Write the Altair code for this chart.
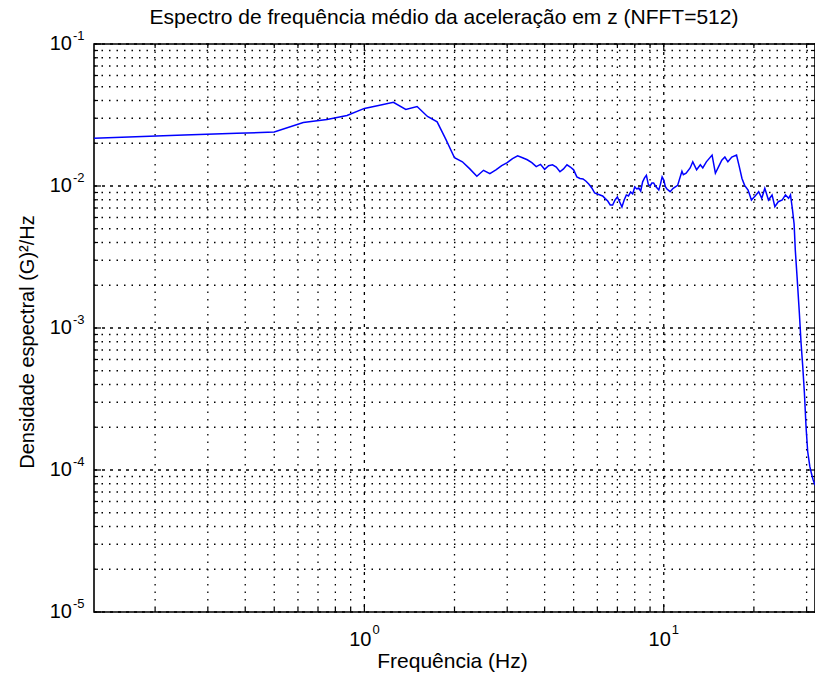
import altair as alt
import pandas as pd

# Plot area size in pixels
W, H = 721, 568
FONT = "Liberation Sans"

# Averaged acceleration PSD in z (NFFT=512), frequency in Hz, PSD in G^2/Hz
freq_low = [0.125, 0.25, 0.375, 0.5, 0.625, 0.75, 0.875, 1.0, 1.125, 1.25, 1.375, 1.5,
            1.625, 1.75, 1.875, 2.0, 2.125, 2.25, 2.375, 2.5, 2.625, 2.75, 2.875]
psd_low = [0.0217, 0.0229, 0.0235, 0.0240, 0.0280, 0.0294, 0.0314, 0.0352, 0.0370, 0.0388, 0.0346, 0.0363,
           0.0309, 0.0283, 0.0211, 0.0158, 0.0148, 0.0132, 0.0117, 0.0129, 0.0122, 0.0130, 0.0139]

freq_mid = [3.0, 3.125, 3.25, 3.375, 3.5, 3.625, 3.75, 3.875,
            4.0, 4.125, 4.25, 4.375, 4.5, 4.625, 4.75, 4.875,
            5.0, 5.125, 5.25, 5.375, 5.5, 5.625, 5.75, 5.875,
            6.0, 6.125, 6.25, 6.375, 6.5, 6.625, 6.75, 6.875,
            7.0, 7.125, 7.25, 7.375, 7.5, 7.625, 7.75, 7.875,
            8.0, 8.125, 8.25, 8.375, 8.5, 8.625, 8.75, 8.875,
            9.0, 9.125, 9.25, 9.375, 9.5, 9.625, 9.75, 9.875]
psd_mid = [0.0146, 0.0156, 0.0163, 0.0158, 0.0153, 0.0146, 0.0137, 0.0142,
           0.0131, 0.0139, 0.0141, 0.0136, 0.0126, 0.0132, 0.0141, 0.0136,
           0.0130, 0.0116, 0.0113, 0.0112, 0.0108, 0.0103, 0.00968, 0.00893,
           0.00879, 0.00865, 0.00851, 0.00815, 0.00784, 0.00735, 0.00735, 0.00797,
           0.00837, 0.00771, 0.00713, 0.00797, 0.00865, 0.00851, 0.00908, 0.00879,
           0.00984, 0.00953, 0.00968, 0.00922, 0.0107, 0.0114, 0.0119, 0.0103,
           0.0100, 0.0105, 0.0105, 0.0100, 0.00968, 0.00937, 0.0103, 0.0116]

freq_high = [10.0, 10.125, 10.25, 10.5, 10.75, 11.125, 11.5, 11.625, 11.875, 12.25,
             12.5, 12.875, 13.25, 13.5, 13.875, 14.5, 14.875, 15.25, 15.625, 16.0,
             16.375, 16.875, 17.5, 17.875, 18.25, 18.625, 19.125, 19.625, 20.125, 20.75,
             21.25, 21.75, 22.375, 23.0, 23.5, 24.125, 24.875, 25.5, 26.125, 26.5,
             26.875, 27.25, 27.5, 27.875, 28.375, 28.75, 29.125, 29.5, 29.875, 30.25,
             30.75, 31.125, 31.5, 32.0]
psd_high = [0.0110, 0.00988, 0.00953, 0.00912, 0.00963, 0.0101, 0.0127, 0.0120, 0.0123, 0.0134,
            0.0148, 0.0130, 0.0141, 0.0134, 0.0148, 0.0165, 0.0123, 0.0137, 0.0152, 0.0160,
            0.0148, 0.0160, 0.0165, 0.0137, 0.0113, 0.0101, 0.00937, 0.00797, 0.00842, 0.00912,
            0.00819, 0.00963, 0.00797, 0.00865, 0.00715, 0.00775, 0.00797, 0.00865, 0.00819, 0.00865,
            0.00697, 0.00540, 0.00354, 0.00230, 0.00127, 0.00078, 0.000534, 0.000347, 0.000200, 0.000135,
            0.000106, 0.0000948, 0.0000860, 0.0000780]

spectrum = pd.DataFrame({
    "f": freq_low + freq_mid + freq_high,
    "psd": psd_low + psd_mid + psd_high,
})

# Grid / tick positions of the log axes
x_major = [1, 10]
x_minor = [0.2, 0.3, 0.4, 0.5, 0.6, 0.7, 0.8, 0.9, 2, 3, 4, 5, 6, 7, 8, 9, 20, 30]
y_major = [1e-5, 1e-4, 1e-3, 1e-2, 1e-1]
y_minor = [k * 10.0 ** d for d in range(-5, -1) for k in range(2, 10)]
x_tick_exp = ["0", "1"]
y_tick_exp = ["-5", "-4", "-3", "-2", "-1"]

title_text = "Espectro de frequência médio da aceleração em z (NFFT=512)"
x_title = "Frequência (Hz)"
y_title = "Densidade espectral (G)²/Hz"

xs = alt.Scale(type="log", domain=[0.125, 32], nice=False)
ys = alt.Scale(type="log", domain=[1e-5, 1e-1], nice=False)


def xv(name="v"):
    return alt.X(f"{name}:Q", scale=xs, axis=None)


def yv(name="v"):
    return alt.Y(f"{name}:Q", scale=ys, axis=None)


xmaj = pd.DataFrame({"v": x_major, "exp": x_tick_exp})
xmin = pd.DataFrame({"v": x_minor})
ymaj = pd.DataFrame({"v": y_major, "exp": y_tick_exp})
ymin = pd.DataFrame({"v": y_minor})

minor_dash = [1.5, 6]
major_dash = [3, 5]

# dotted grid
grid_layers = [
    alt.Chart(xmin).mark_rule(color="black", strokeWidth=1.3, strokeDash=minor_dash)
    .encode(x=xv(), y=alt.value(0), y2=alt.value(H)),
    alt.Chart(xmaj).mark_rule(color="black", strokeWidth=1.3, strokeDash=major_dash)
    .encode(x=xv(), y=alt.value(0), y2=alt.value(H)),
    alt.Chart(ymin).mark_rule(color="black", strokeWidth=1.3, strokeDash=minor_dash)
    .encode(y=yv(), x=alt.value(0), x2=alt.value(W)),
    alt.Chart(ymaj).mark_rule(color="black", strokeWidth=1.3, strokeDash=major_dash)
    .encode(y=yv(), x=alt.value(0), x2=alt.value(W)),
]

# inward tick marks on all four sides
tick_layers = []
for df, ln in ((xmaj, 7), (xmin, 4)):
    tick_layers.append(alt.Chart(df).mark_rule(color="black", strokeWidth=1.2)
                       .encode(x=xv(), y=alt.value(H), y2=alt.value(H - ln)))
    tick_layers.append(alt.Chart(df).mark_rule(color="black", strokeWidth=1.2)
                       .encode(x=xv(), y=alt.value(0), y2=alt.value(ln)))
for df, ln in ((ymaj, 7), (ymin, 4)):
    tick_layers.append(alt.Chart(df).mark_rule(color="black", strokeWidth=1.2)
                       .encode(y=yv(), x=alt.value(0), x2=alt.value(ln)))
    tick_layers.append(alt.Chart(df).mark_rule(color="black", strokeWidth=1.2)
                       .encode(y=yv(), x=alt.value(W), x2=alt.value(W - ln)))

# power-of-ten tick labels: "10" plus a raised exponent
label_layers = [
    alt.Chart(xmaj).mark_text(font=FONT, fontSize=20, align="right", baseline="middle", dx=7)
    .encode(x=xv(), y=alt.value(H + 28), text=alt.value("10")),
    alt.Chart(xmaj).mark_text(font=FONT, fontSize=13, align="left", baseline="middle", dx=8)
    .encode(x=xv(), y=alt.value(H + 18), text="exp:N"),
    alt.Chart(ymaj).mark_text(font=FONT, fontSize=20, align="right", baseline="middle")
    .encode(y=yv(), x=alt.value(-22), text=alt.value("10")),
    alt.Chart(ymaj).mark_text(font=FONT, fontSize=13, align="left", baseline="middle", dy=-8)
    .encode(y=yv(), x=alt.value(-21), text="exp:N"),
]

line = alt.Chart(spectrum).mark_line(color="#0000ff", strokeWidth=1.5).encode(
    x=xv("f"), y=yv("psd"), order="f:Q"
)

text_df = pd.DataFrame({"title": [title_text], "xt": [x_title], "yt": [y_title]})
titles = [
    alt.Chart(text_df).mark_text(font=FONT, fontSize=21, align="center", baseline="middle")
    .encode(x=alt.value(350), y=alt.value(-26), text="title:N"),
    alt.Chart(text_df).mark_text(font=FONT, fontSize=21, align="center", baseline="middle")
    .encode(x=alt.value(W / 2 - 2), y=alt.value(H + 50), text="xt:N"),
    alt.Chart(text_df).mark_text(font=FONT, fontSize=20, align="center", baseline="middle", angle=270)
    .encode(x=alt.value(-66), y=alt.value(H / 2 + 14), text="yt:N"),
]

chart = alt.layer(*grid_layers, *tick_layers, line, *label_layers, *titles).properties(
    width=W,
    height=H,
    padding={"left": 94, "top": 44, "right": 0, "bottom": 70},
    autosize=alt.AutoSizeParams(type="none"),
    background="white",
).configure_view(stroke="black", strokeWidth=1.6)

chart.save("out.html", embed_options={"renderer": "svg", "actions": False})
